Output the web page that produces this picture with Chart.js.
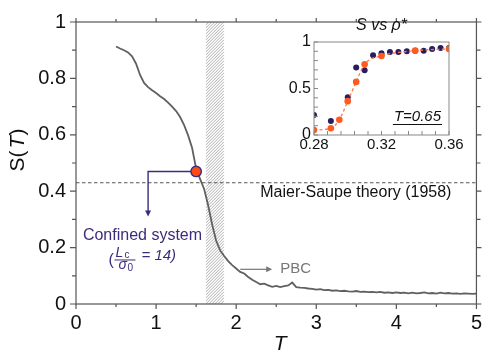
<!DOCTYPE html>
<html><head><meta charset="utf-8">
<script src="https://cdn.jsdelivr.net/npm/chart.js@4/dist/chart.umd.min.js"></script>
<style>
html,body{margin:0;padding:0;background:#fff;}
#wrap{position:relative;width:489px;height:352px;overflow:hidden;}
#main{position:absolute;left:0;top:0;}
#inset{position:absolute;left:270px;top:0;}
</style></head><body>
<div id="wrap"><canvas id="main" width="489" height="352"></canvas><canvas id="inset" width="200" height="160"></canvas></div>
<script>
// ---- main curve: order parameter S vs temperature T ----
const tempT = [0.50,0.55,0.60,0.65,0.70,0.75,0.80,0.85,0.90,0.95,1.00,1.05,1.10,1.15,1.20,1.25,1.30,1.35,1.40,1.45,
 1.50,1.55,1.60,1.65,1.70,1.75,1.80,1.85,1.90,1.95,2.00,2.05,2.10,2.15,2.20,2.25,2.30,2.35,2.40,2.45,
 2.50,2.55,2.60,2.65,2.70,2.75,2.80,2.85,2.90,2.95,3.00,3.05,3.10,3.15,3.20,3.25,3.30,3.35,3.40,3.45,
 3.50,3.55,3.60,3.65,3.70,3.75,3.80,3.85,3.90,3.95,4.00,4.05,4.10,4.15,4.20,4.25,4.30,4.35,4.40,4.45,
 4.50,4.55,4.60,4.65,4.70,4.75,4.80,4.85,4.90,4.95,5.00];
const orderS = [0.913,0.906,0.900,0.892,0.878,0.852,0.812,0.784,0.769,0.758,0.748,0.737,0.727,0.714,0.700,0.684,0.663,0.634,0.598,0.553,
 0.480,0.443,0.408,0.350,0.282,0.224,0.190,0.170,0.152,0.138,0.126,0.114,0.108,0.096,0.086,0.078,0.070,0.072,0.066,0.061,
 0.064,0.060,0.063,0.066,0.076,0.060,0.058,0.057,0.055,0.054,0.051,0.053,0.049,0.050,0.047,0.048,0.046,0.047,0.045,0.044,
 0.046,0.043,0.044,0.042,0.043,0.041,0.043,0.040,0.041,0.039,0.041,0.039,0.040,0.038,0.040,0.038,0.039,0.041,0.038,0.039,
 0.037,0.040,0.038,0.039,0.037,0.038,0.036,0.038,0.037,0.036,0.037];
const xTicks = [0,1,2,3,4,5];
const xMinorTicks = [0.5,1.5,2.5,3.5,4.5];
const yTicks = [0,0.2,0.4,0.6,0.8,1];
const yMinorTicks = [0.1,0.3,0.5,0.7,0.9];
const maierSaupeS = 0.43;
const transitionBand = [1.62,1.85];
const confinedPoint = [1.5,0.47];
const confinedArrow = [0.90,0.31];
const pbcArrow = [2.05,2.45,0.123];

// ---- inset: S vs rho* at T=0.65 ----
const insetRhoNavy = [0.28,0.29,0.30,0.305,0.31,0.315,0.32,0.325,0.33,0.335,0.34,0.345,0.35,0.355,0.36];
const insetSNavy   = [0.214,0.150,0.407,0.725,0.697,0.857,0.879,0.893,0.893,0.900,0.907,0.907,0.925,0.936,0.936];
const insetRhoOrange = [0.28,0.29,0.295,0.30,0.305,0.31,0.32,0.34,0.36];
const insetSOrange   = [0.054,0.072,0.164,0.364,0.571,0.761,0.850,0.907,0.925];
const insetXTicks = [0.28,0.32,0.36];
const insetXMinor = [0.288,0.296,0.304,0.312,0.328,0.336,0.344,0.352];
const insetYTicks = [0,0.5,1];
const insetYMinor = [0.1,0.2,0.3,0.4,0.6,0.7,0.8,0.9];

const FONT = "'Liberation Sans', Arial, Helvetica, sans-serif";
const NAVY = '#3d2b7d';
Chart.defaults.font.family = FONT;
Chart.defaults.color = '#111';

function fmt(v){ return String(+(+v).toFixed(3)); }

const mainDeco = {
  id:'mainDeco',
  beforeDatasetsDraw(chart){
    const {ctx, chartArea:a, scales:{x,y}} = chart;
    const x0 = x.getPixelForValue(transitionBand[0]), x1 = x.getPixelForValue(transitionBand[1]);
    const w = x1 - x0;
    ctx.save();
    ctx.beginPath(); ctx.rect(x0, a.top, w, a.bottom - a.top); ctx.clip();
    ctx.strokeStyle = '#999'; ctx.lineWidth = 0.8;
    ctx.beginPath();
    for(let c = a.top - w; c < a.bottom + w; c += 3){ ctx.moveTo(x0, c + w); ctx.lineTo(x1, c); }
    ctx.stroke();
    ctx.restore();
    const yd = y.getPixelForValue(maierSaupeS);
    ctx.save(); ctx.setLineDash([3.5,2.5]); ctx.strokeStyle = '#555'; ctx.lineWidth = 1;
    ctx.beginPath(); ctx.moveTo(a.left, yd); ctx.lineTo(a.right, yd); ctx.stroke(); ctx.restore();
  },
  afterDraw(chart){
    const {ctx, chartArea:a, scales:{x,y}} = chart;
    ctx.save();
    // frame
    ctx.strokeStyle = '#555'; ctx.lineWidth = 1.2;
    ctx.strokeRect(a.left, a.top, a.right - a.left, a.bottom - a.top);
    ctx.beginPath();
    const tk = (x1,y1,x2,y2)=>{ctx.moveTo(x1,y1);ctx.lineTo(x2,y2);};
    xTicks.forEach(v=>{const p=x.getPixelForValue(v); tk(p,a.bottom,p,a.bottom+5); tk(p,a.top,p,a.top-4);});
    xMinorTicks.forEach(v=>{const p=x.getPixelForValue(v); tk(p,a.bottom,p,a.bottom+3); tk(p,a.top,p,a.top-3);});
    yTicks.forEach(v=>{const p=y.getPixelForValue(v); tk(a.left,p,a.left-6,p); tk(a.right,p,a.right+5,p);});
    yMinorTicks.forEach(v=>{const p=y.getPixelForValue(v); tk(a.left,p,a.left-4,p); tk(a.right,p,a.right+4,p);});
    ctx.stroke();

    // confined connector
    const cx = x.getPixelForValue(confinedPoint[0]), cy = y.getPixelForValue(confinedPoint[1]);
    const ax = x.getPixelForValue(confinedArrow[0]), ay = y.getPixelForValue(confinedArrow[1]);
    ctx.strokeStyle = NAVY; ctx.fillStyle = NAVY; ctx.lineWidth = 1.4;
    ctx.beginPath(); ctx.moveTo(cx, cy); ctx.lineTo(ax, cy); ctx.lineTo(ax, ay - 5); ctx.stroke();
    ctx.beginPath(); ctx.moveTo(ax - 3, ay - 6); ctx.lineTo(ax + 3, ay - 6); ctx.lineTo(ax, ay); ctx.closePath(); ctx.fill();
    // marker
    ctx.beginPath(); ctx.arc(cx, cy, 5.2, 0, Math.PI*2);
    ctx.fillStyle = '#ff4a14'; ctx.fill(); ctx.lineWidth = 1.4; ctx.strokeStyle = NAVY; ctx.stroke();

    // PBC arrow
    const p0 = x.getPixelForValue(pbcArrow[0]), p1 = x.getPixelForValue(pbcArrow[1]), py = y.getPixelForValue(pbcArrow[2]);
    ctx.strokeStyle = '#777'; ctx.fillStyle = '#777'; ctx.lineWidth = 1.2;
    ctx.beginPath(); ctx.moveTo(p0, py); ctx.lineTo(p1 - 5, py); ctx.stroke();
    ctx.beginPath(); ctx.moveTo(p1 - 6, py - 3); ctx.lineTo(p1, py); ctx.lineTo(p1 - 6, py + 3); ctx.closePath(); ctx.fill();
    ctx.textBaseline = 'middle'; ctx.textAlign = 'left';
    ctx.font = '15px ' + FONT; ctx.fillStyle = '#777';
    ctx.fillText('PBC', p1 + 8, py);

    // Maier-Saupe label
    ctx.font = '16px ' + FONT; ctx.fillStyle = '#111';
    ctx.fillText('Maier-Saupe theory (1958)', x.getPixelForValue(2.30), y.getPixelForValue(0.394));

    // Confined system label
    ctx.fillStyle = NAVY; ctx.textAlign = 'center';
    const lx = x.getPixelForValue(0.83), ly = y.getPixelForValue(0.243);
    ctx.fillText('Confined system', lx, ly);
    // (Lc / sigma0 = 14)
    const fy = ly + 24; // fraction bar
    ctx.textAlign = 'left'; ctx.textBaseline = 'alphabetic';
    ctx.font = '16px ' + FONT;
    ctx.fillText('(', lx - 34, fy + 6);
    ctx.font = 'italic 14px ' + FONT; ctx.fillText('L', lx - 27, fy - 2);
    ctx.font = '10px ' + FONT; ctx.fillText('c', lx - 18, fy - 1);
    ctx.font = 'italic 14px ' + FONT; ctx.fillText('σ', lx - 24, fy + 10);
    ctx.font = '10px ' + FONT; ctx.fillText('0', lx - 15, fy + 12);
    ctx.lineWidth = 1; ctx.strokeStyle = NAVY;
    ctx.beginPath(); ctx.moveTo(lx - 28, fy + 0.5); ctx.lineTo(lx - 7, fy + 0.5); ctx.stroke();
    ctx.font = 'italic 15px ' + FONT; ctx.fillText('= 14)', lx - 1, fy + 1);

    // axis titles
    ctx.fillStyle = '#111'; ctx.textBaseline = 'middle';
    ctx.font = 'italic 21px ' + FONT; ctx.textAlign = 'center';
    ctx.fillText('T', (a.left + a.right)/2 + 4, a.bottom + 40);
    ctx.save();
    ctx.translate(18, (a.top + a.bottom)/2 - 12);
    ctx.rotate(-Math.PI/2);
    ctx.textAlign = 'left';
    const parts = [['S','21px '],['(','21px '],['T','italic 21px '],[')','21px ']];
    let tw = 0; parts.forEach(p=>{ctx.font = p[1]+FONT; tw += ctx.measureText(p[0]).width;});
    let px = -tw/2;
    parts.forEach(p=>{ctx.font = p[1]+FONT; ctx.fillText(p[0], px, 0); px += ctx.measureText(p[0]).width + (p[0]==='('?2:0);});
    ctx.restore();
    ctx.restore();
  }
};

new Chart(document.getElementById('main'), {
  type:'line',
  data:{ datasets:[{
    data: tempT.map((t,i)=>({x:t, y:orderS[i]})),
    borderColor:'#606060', borderWidth:1.8, pointRadius:0, tension:0
  }]},
  options:{
    responsive:false, animation:false, devicePixelRatio:1,
    layout:{padding:{left:0, right:6, top:15, bottom:0}},
    plugins:{legend:{display:false}, tooltip:{enabled:false}},
    scales:{
      x:{type:'linear', min:0, max:5,
        afterBuildTicks:s=>{ s.ticks = xTicks.map(v=>({value:v})); },
        afterFit:s=>{ s.height = 48; },
        grid:{display:false, drawTicks:false}, border:{display:false},
        ticks:{font:{size:20}, color:'#111', padding:7, maxRotation:0, autoSkip:false, callback:fmt}},
      y:{type:'linear', min:0, max:1,
        afterBuildTicks:s=>{ s.ticks = yTicks.map(v=>({value:v})); },
        afterFit:s=>{ s.width = 76; },
        grid:{display:false, drawTicks:false}, border:{display:false},
        ticks:{font:{size:20}, color:'#111', padding:10, autoSkip:false, callback:fmt}}
    }
  },
  plugins:[mainDeco]
});

const insetDeco = {
  id:'insetDeco',
  afterDraw(chart){
    const {ctx, chartArea:a, scales:{x,y}} = chart;
    ctx.save();
    ctx.strokeStyle = '#888'; ctx.lineWidth = 1;
    ctx.strokeRect(a.left, a.top, a.right - a.left, a.bottom - a.top);
    ctx.beginPath();
    insetXTicks.concat(insetXMinor).forEach(v=>{const p=x.getPixelForValue(v); ctx.moveTo(p,a.bottom); ctx.lineTo(p,a.bottom-4);});
    insetYTicks.concat(insetYMinor).forEach(v=>{const p=y.getPixelForValue(v); ctx.moveTo(a.left,p); ctx.lineTo(a.left+4,p);});
    ctx.stroke();
    // title
    ctx.fillStyle = '#111'; ctx.textAlign = 'center'; ctx.textBaseline = 'middle';
    ctx.font = 'italic 16px ' + FONT;
    ctx.fillText('S vs ρ*', (a.left + a.right)/2, a.top - 16);
    // T=0.65
    ctx.textAlign = 'right'; ctx.textBaseline = 'alphabetic';
    ctx.font = 'italic 15px ' + FONT;
    const tx = a.right - 8, ty = a.bottom - 14;
    ctx.fillText('T=0.65', tx, ty);
    const tw = ctx.measureText('T=0.65').width;
    ctx.strokeStyle = '#111'; ctx.lineWidth = 1.2;
    ctx.beginPath(); ctx.moveTo(tx - tw - 1, ty + 3.5); ctx.lineTo(tx + 1, ty + 3.5); ctx.stroke();
    ctx.restore();
  }
};

new Chart(document.getElementById('inset'), {
  type:'line',
  data:{ datasets:[
    { data: insetRhoOrange.map((r,i)=>({x:r, y:insetSOrange[i]})),
      borderColor:'#ff7a45', borderWidth:1.3, borderDash:[3,2.5], cubicInterpolationMode:'monotone',
      pointRadius:3.3, pointBackgroundColor:'#ff5a1f', pointBorderWidth:0 },
    { data: insetRhoNavy.map((r,i)=>({x:r, y:insetSNavy[i]})),
      showLine:false, pointRadius:3, pointBackgroundColor:'#2a1d5e', pointBorderWidth:0 }
  ]},
  options:{
    responsive:false, animation:false, devicePixelRatio:1,
    layout:{padding:{left:0, right:21, top:42, bottom:0}},
    plugins:{legend:{display:false}, tooltip:{enabled:false}},
    scales:{
      x:{type:'linear', min:0.28, max:0.36,
        afterBuildTicks:s=>{ s.ticks = insetXTicks.map(v=>({value:v})); },
        afterFit:s=>{ s.height = 25; },
        grid:{display:false, drawTicks:false}, border:{display:false},
        ticks:{font:{size:15}, color:'#111', padding:1, maxRotation:0, autoSkip:false, callback:fmt}},
      y:{type:'linear', min:0, max:1,
        afterBuildTicks:s=>{ s.ticks = insetYTicks.map(v=>({value:v})); },
        afterFit:s=>{ s.width = 44; },
        grid:{display:false, drawTicks:false}, border:{display:false},
        ticks:{font:{size:16}, color:'#111', padding:3, autoSkip:false, callback:fmt}}
    }
  },
  plugins:[insetDeco]
});
</script>
</body></html>
